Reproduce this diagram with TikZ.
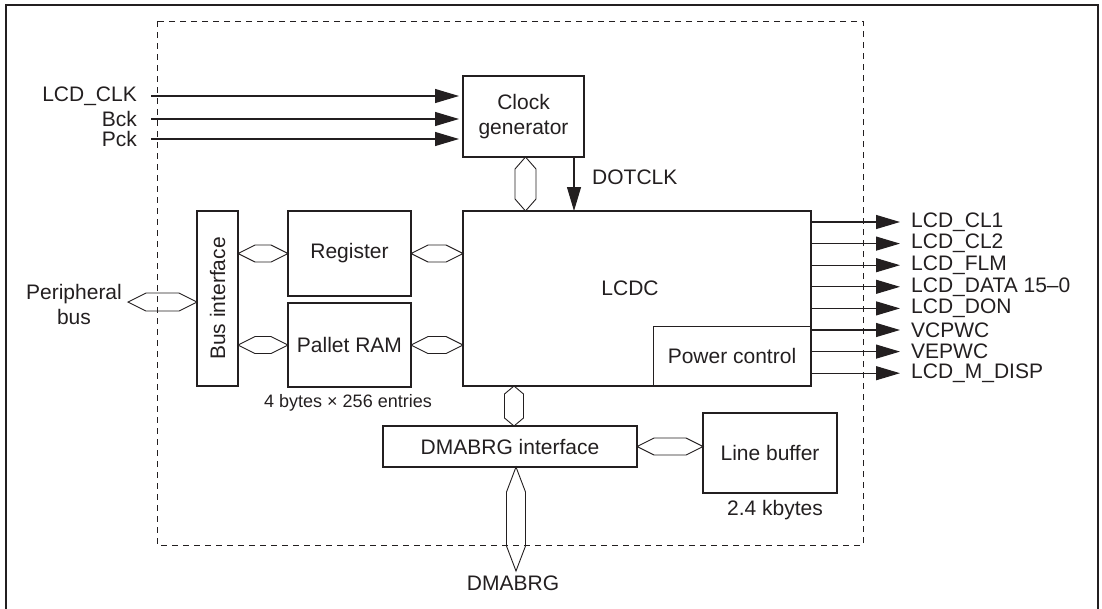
\documentclass[tikz,border=0pt]{standalone}
\usepackage{fontspec}
\setmainfont{Liberation Sans}
\usetikzlibrary{arrows.meta,calc}
\definecolor{ink}{HTML}{231F20}
\newcommand\hbushex[4]{\draw[bus] let \p1=#1, \p2=#2 in (\x1,\y1) -- (\x1+#4pt,\y1-#3pt) -- (\x2-#4pt,\y1-#3pt) -- (\x2,\y1) -- (\x2-#4pt,\y1+#3pt) -- (\x1+#4pt,\y1+#3pt) -- cycle;}
\newcommand\vbushex[4]{\draw[bus] let \p1=#1, \p2=#2 in (\x1,\y1) -- (\x1+#3pt,\y1-#4pt) -- (\x1+#3pt,\y2+#4pt) -- (\x1,\y2) -- (\x1-#3pt,\y2+#4pt) -- (\x1-#3pt,\y1-#4pt) -- cycle;}
\begin{document}
\begin{tikzpicture}[x=1pt,y=-1pt,
  font=\fontsize{21}{25}\selectfont,
  box/.style={draw=ink, line width=1.8pt, inner sep=0pt, outer sep=0pt, text=ink, align=center},
  bus/.style={draw=ink, line width=0.9pt},
  sig/.style={draw=ink, line width=1.1pt, -{Triangle[length=24pt,width=14pt]}},
  lbl/.style={text=ink, inner sep=0pt, align=center}]
\useasboundingbox (0,0) rectangle (1102,608);
\draw[ink, line width=2pt] (6,612) -- (6,5) -- (1098,5) -- (1098,612);
\draw[ink, line width=1pt, dash pattern=on 6pt off 5pt] (157,21) rectangle (863,545);

% blocks
\node[box, minimum width=121, minimum height=81] (clk) at (523.5,116.5) {Clock\\generator};
\node[box, minimum width=348, minimum height=175] (lcdc) at (637,298.5) {};
\node[lbl] (lcdctxt) at (630,288) {LCDC};
\node[lbl, minimum width=158, minimum height=60, outer sep=0pt] (pwr) at (732,356) {Power control};
\draw[ink, line width=1pt] (pwr.south west) -- (pwr.north west) -- (pwr.north east);
\node[box, minimum width=41, minimum height=175] (busif) at (217.5,298.5) {};
\node[lbl, rotate=90] (busiftxt) at (busif.center) {Bus interface};
\node[box, minimum width=123, minimum height=85] (reg) at (349.5,253.5) {Register};
\node[box, minimum width=123, minimum height=84] (pal) at (349.5,345) {Pallet RAM};
\node[lbl, font=\fontsize{18}{22}\selectfont] (palnote) at (348,403) {4 bytes × 256 entries};
\node[box, minimum width=254, minimum height=41] (dma) at (510,446.5) {DMABRG interface};
\node[box, minimum width=134, minimum height=80] (lb) at (770,453) {Line buffer};
\node[lbl] (lbnote) at (775,510) {2.4 kbytes};

% buses
\coordinate (pbus) at (128,302);
\node[lbl] (pbustxt) at (74,304) {Peripheral\\bus};
\hbushex{(pbus)}{(busif.west |- pbus)}{9}{18}
\hbushex{(busif.east |- reg.west)}{(reg.west)}{8.5}{17}
\hbushex{(busif.east |- pal.west)}{(pal.west)}{8.5}{17}
\hbushex{(reg.east)}{(lcdc.west |- reg.east)}{8.5}{17}
\hbushex{(pal.east)}{(lcdc.west |- pal.east)}{8.5}{17}
\hbushex{(dma.east)}{(lb.west |- dma.east)}{8.5}{17}
\coordinate (clkbus) at ([xshift=2pt]clk.south);
\vbushex{(clkbus)}{(lcdc.north -| clkbus)}{10.5}{12}
\coordinate (dmatop) at ([xshift=4pt]dma.north);
\vbushex{(lcdc.south -| dmatop)}{(dmatop)}{9.5}{8}
\coordinate (dmabot) at ([xshift=6pt]dma.south);
\coordinate (dmabrg) at (516,571);
\vbushex{(dmabot)}{(dmabrg)}{9.5}{25}
\node[lbl] (dmabrgtxt) at (513,583) {DMABRG};

% clock inputs
\foreach \n/\yy/\t in {1/96/LCD\_CLK, 2/119/Bck, 3/139/Pck}{
  \coordinate (i\n) at (151,\yy);
  \draw[sig, shorten >=4pt] (i\n) -- (clk.west |- i\n);
  \node[lbl, anchor=east] (il\n) at (137,\yy) {\t};
}
% DOTCLK
\coordinate (dtop) at ([xshift=-10pt]clk.south east);
\draw[sig] (dtop) -- (lcdc.north -| dtop);
\node[lbl, anchor=west] (dotclk) at (592,177) {DOTCLK};

% outputs
\foreach \n/\t in {0/LCD\_CL1, 1/LCD\_CL2, 2/LCD\_FLM, 3/LCD\_DATA 15--0, 4/LCD\_DON, 5/VCPWC, 6/VEPWC, 7/LCD\_M\_DISP}{
  \coordinate (o\n) at (900,222+21.6*\n);
  \draw[sig] (lcdc.east |- o\n) -- (o\n);
  \node[lbl, anchor=west] (ol\n) at (911,222+21.6*\n) {\t};
}
\end{tikzpicture}
\end{document}
